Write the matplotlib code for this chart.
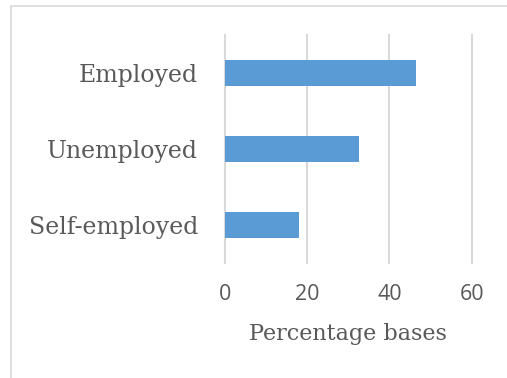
import numpy as np
import matplotlib.pyplot as plt
from matplotlib.patches import Rectangle

# Datos
categorias = ['Self-employed', 'Unemployed', 'Employed']
valores = [18.1, 32.7, 46.4]
ticks_x = [0, 20, 40, 60]

W, H = 507, 378
fig = plt.figure(figsize=(W / 100, H / 100), dpi=100)

# marco gris del area del grafico (solo se ven los bordes izquierdo y superior)
fig.patches.append(Rectangle((11 / W, -0.1), 1.2, (H - 6) / H + 0.1, transform=fig.transFigure,
                             fill=False, edgecolor='#d9d9d9', linewidth=1.2))

x0, x1 = 225, 471.7
y0, y1 = 35, 263
ax = fig.add_axes([x0 / W, (H - y1) / H, (x1 - x0) / W, (y1 - y0) / H])

pos = np.arange(len(categorias))
ax.barh(pos, valores, height=0.35, color='#5b9bd5', zorder=3)

ax.set_xlim(0, 60)
ax.set_ylim(-0.5, len(categorias) - 0.5)
ax.set_xticks(ticks_x)
ax.set_yticks(pos)
ax.set_yticklabels(categorias, fontfamily='DejaVu Serif', fontsize=17, color='#595959')
ax.tick_params(axis='x', labelsize=15.5, labelcolor='#595959', length=0, pad=15)
ax.tick_params(axis='y', length=0, pad=19.5)
for lab in ax.get_xticklabels():
    lab.set_fontfamily('Open Sans')

# lineas de grilla (sin recortar en los bordes)
for t in ticks_x:
    ax.axvline(t, color='#d9d9d9', linewidth=1.5, zorder=0, clip_on=False)
for s in ax.spines.values():
    s.set_visible(False)

ax.set_xlabel('Percentage bases', fontfamily='DejaVu Serif', fontsize=16, color='#595959', labelpad=13)

fig.savefig('out.png', dpi=100)
